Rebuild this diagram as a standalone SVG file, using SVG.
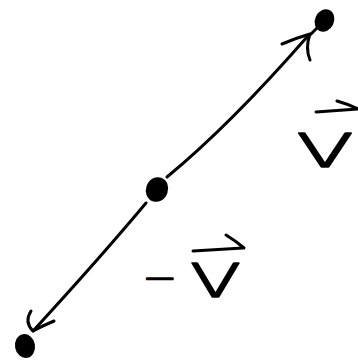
<svg xmlns="http://www.w3.org/2000/svg" width="358" height="360" viewBox="0 0 358 360">
<style>
.stroke{fill:none;stroke:#000;stroke-width:3;stroke-linecap:round;stroke-linejoin:round}
.dot{fill:#000}
.lbl{font-family:"DejaVu Sans","Liberation Sans",sans-serif;font-weight:200;fill:#000;stroke:#000;stroke-width:1.4;stroke-linejoin:round}
</style>
<rect width="358" height="360" fill="#fff"/>
<g id="connectors">
<path class="stroke" d="M167,177 Q230,125 307,37"/>
<path class="stroke" d="M282,44 Q296,38 310,34 Q305,48 310,60"/>
<path class="stroke" d="M146,203 Q100,258 33,331"/>
<path class="stroke" d="M31,311 Q24,322 33,331 Q42,326 54,321"/>
</g>
<g id="node-top">
<ellipse class="dot" cx="324.5" cy="20.5" rx="9.5" ry="11.5" transform="rotate(25 324.5 20.5)"/>
<path class="stroke" d="M311,34 L319,26" stroke-width="5"/>
</g>
<g id="node-center">
<ellipse class="dot" cx="157" cy="189.5" rx="11" ry="12.5" transform="rotate(20 157 189.5)"/>
</g>
<g id="node-bottom">
<ellipse class="dot" cx="25" cy="346" rx="10" ry="12" transform="rotate(-10 25 346)"/>
</g>
<g id="label-v">
<path class="stroke" d="M316,112 L358,109 M337,101 Q348,104 358,109"/>
<text class="lbl" x="292" y="167" font-size="62" textLength="66" lengthAdjust="spacingAndGlyphs">v</text>
</g>
<g id="label-minus-v">
<path class="stroke" d="M193,251 L243,248 M226,235 Q236,241 244,248"/>
<text class="lbl" y="297" font-size="62"><tspan x="142" font-size="42" dy="-5">−</tspan><tspan x="186" dy="5" textLength="59" lengthAdjust="spacingAndGlyphs">v</tspan></text>
</g>
</svg>
